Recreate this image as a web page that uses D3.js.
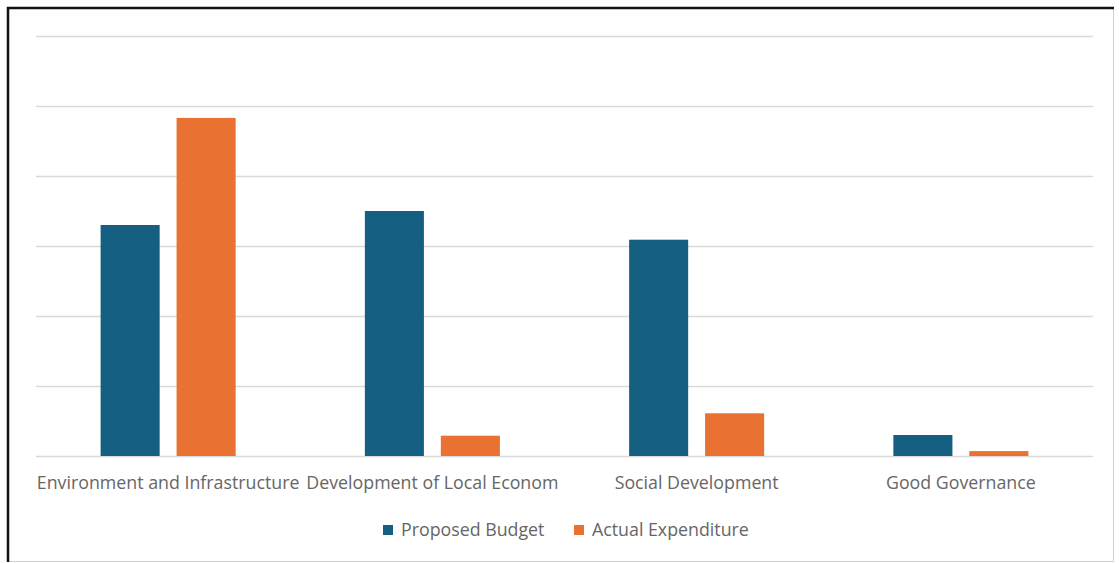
<!DOCTYPE html>
<html>
<head>
<meta charset="utf-8">
<script src="https://cdn.jsdelivr.net/npm/d3@7"></script>
<style>
  html, body { margin: 0; padding: 0; background: #fff; }
  svg { display: block; }
</style>
</head>
<body>
<svg id="chart" width="1119" height="563"></svg>
<script>
// Programme areas and their budget vs. spend
const categories = [
  "Environment and Infrastructure",
  "Development of Local Econom",
  "Social Development",
  "Good Governance"
];
const seriesNames = ["Proposed Budget", "Actual Expenditure"];
const proposedBudget = [33, 35, 30.9, 3.0];
const actualExpenditure = [48.3, 2.9, 6.1, 0.7];
const yTicks = [0, 10, 20, 30, 40, 50, 60];
const colors = ["#156082", "#E97132"];

const svg = d3.select("#chart");
const W = 1119, H = 563;
const font = "'Open Sans', Lato, sans-serif";
const fontSize = "17.8px";

// frame
svg.append("rect").attr("x", 0).attr("y", 0).attr("width", W).attr("height", H).attr("fill", "#fff");
svg.append("rect").attr("x", 8.5).attr("y", 8.5).attr("width", 1105).attr("height", 553)
  .attr("fill", "none").attr("stroke", "#d0d0d0").attr("stroke-width", 1);
svg.append("path").attr("d", "M8,562 V8 H1114")
  .attr("fill", "none").attr("stroke", "#111").attr("stroke-width", 2.5);

const plot = { left: 36, right: 1093, top: 36, bottom: 456 };

const x = d3.scaleBand().domain(categories).range([plot.left, plot.right]).padding(0);
const y = d3.scaleLinear().domain([0, 60]).range([plot.bottom, plot.top]);

// gridlines
const yAxis = d3.axisLeft(y).tickValues(yTicks).tickSize(-(plot.right - plot.left)).tickFormat("");
const gy = svg.append("g").attr("transform", `translate(${plot.left},0)`).call(yAxis);
gy.select(".domain").remove();
gy.selectAll(".tick line").attr("stroke", "#d9d9d9").attr("stroke-width", 1.3);

// grouped bars
const bw = x.bandwidth();
const barW = bw * 0.2235;
const barGap = bw * 0.064;
const inner = d3.scaleBand().domain(seriesNames)
  .range([(bw - (2 * barW + barGap)) / 2, (bw + (2 * barW + barGap)) / 2])
  .paddingInner(barGap / (barW + barGap)).paddingOuter(0);

const rows = categories.map((c, i) => ({ cat: c, vals: [proposedBudget[i], actualExpenditure[i]] }));
const groups = svg.append("g").selectAll("g").data(rows).join("g")
  .attr("transform", d => `translate(${x(d.cat)},0)`);
groups.selectAll("rect")
  .data(d => d.vals.map((v, j) => ({ name: seriesNames[j], v, j })))
  .join("rect")
  .attr("x", d => inner(d.name))
  .attr("width", inner.bandwidth())
  .attr("y", d => y(d.v))
  .attr("height", d => y(0) - y(d.v))
  .attr("fill", d => colors[d.j]);

// category axis
const xAxis = d3.axisBottom(x).tickSize(0).tickPadding(0);
const gx = svg.append("g").attr("transform", `translate(0,${plot.bottom})`).call(xAxis);
gx.select(".domain").remove();
gx.selectAll(".tick text")
  .attr("y", 33)
  .attr("dy", 0)
  .attr("fill", "#666")
  .style("font-family", font)
  .style("font-size", fontSize);

// legend
const legend = svg.append("g").attr("transform", "translate(0,530)");
const items = [
  { name: seriesNames[0], color: colors[0], x: 383 },
  { name: seriesNames[1], color: colors[1], x: 574 }
];
const li = legend.selectAll("g").data(items).join("g")
  .attr("transform", d => `translate(${d.x},0)`);
li.append("rect").attr("x", 0).attr("y", -5).attr("width", 10).attr("height", 10).attr("fill", d => d.color);
li.append("text").attr("x", 18).attr("y", 6)
  .attr("fill", "#666")
  .style("font-family", font)
  .style("font-size", fontSize)
  .text(d => d.name);
</script>
</body>
</html>
